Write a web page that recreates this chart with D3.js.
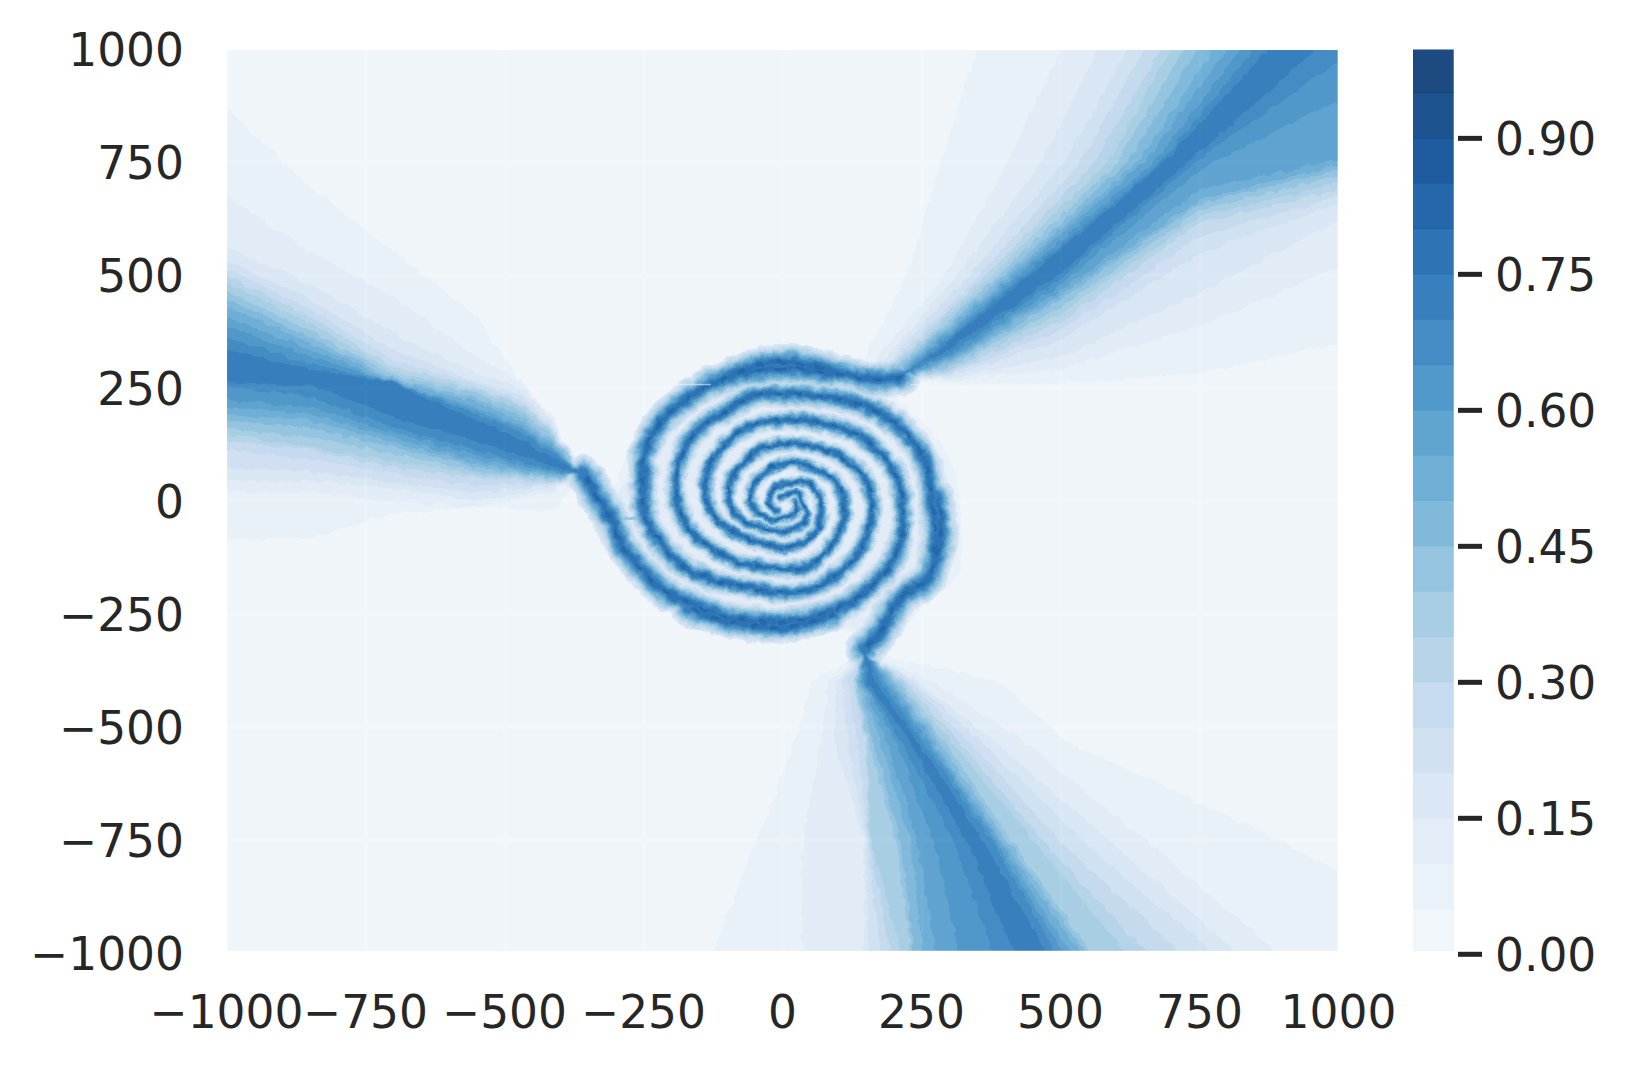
<!DOCTYPE html>
<html><head><meta charset="utf-8">
<script src="https://cdn.jsdelivr.net/npm/d3@7"></script>
<style>html,body{margin:0;background:#fff}svg{display:block}text{font-family:"DejaVu Sans",sans-serif;fill:#262626}</style>
</head><body><svg id="c" width="1627" height="1068"></svg>
<script>
const xTicks=[-1000,-750,-500,-250,0,250,500,750,1000];
const yTicks=[-1000,-750,-500,-250,0,250,500,750,1000];
const barTicks=[0,0.15,0.30,0.45,0.60,0.75,0.90];
const barExtent=[0.0037,0.9975];
const bluesStops=["#f1f7fb","#deebf7","#c6dbef","#9ecae1","#6baed6","#4292c6","#2171b5","#08519c","#073873"];
const bandLevels=d3.range(0,20);           // band i spans i*0.05 .. (i+1)*0.05

// upper-right wedge: level index, x on the left edge at y rows, y on the lower edge at x columns
const urRows=[1000,750,500,300], urCols=[300,500,750,1000], urApex=[200,271];
const urLeft=[[350,284,224,140],[500,404,290,158],[566,464,314,173],[620,506,335,182],[650,536,353,191],[680,560,365,197],[698,584,377,203],[722,602,389,209],[746,620,398,215],[776,638,407,221],[800,650,416,227],[824,668,425,233],[848,680,434,239],[872,686,443,245]];
const urRight=[[260,260,282,349],[266,293,386,519],[271,319,460,622],[276,356,548,659],[280,378,585,674],[286,397,615,689],[291,415,630,704],[297,430,645,719],[303,445,659,733],[308,456,667,745],[313,467,689,756],[319,478,734,889],[326,493,759,974],[337,504,773,1044]];

// left wedge
const lwColsTop=[-1000,-851,-701,-551,-473,-413], lwColsLow=[-1000,-851,-701,-551,-413], lwApex=[-359,60];
const lwTop=[[869,696,552,408,267,186],[674,552,452,319,263,178],[560,482,371,282,252,171],[534,445,334,263,238,163],[515,426,311,260,226,156],[497,408,297,252,219,149],[482,393,286,245,212,145],[463,378,278,238,200,138],[446,363,271,226,189,130],[430,349,267,219,178,123],[408,334,263,208,167,115],[387,319,263,200,160,112],[362,304,262,193,152,106],[334,293,260,178,138,97]];
const lwLow=[[-88,-81,-29,-14,-22],[19,19,-3,-14,19],[45,45,27,1,27],[71,67,41,19,34],[112,93,60,34,38],[134,112,75,52,41],[149,119,89,60,45],[160,141,104,67,49],[178,163,119,75,52],[193,178,130,82,56],[208,193,141,89,60],[223,208,152,101,63],[252,230,163,112,67],[263,256,186,132,75]];

// bottom wedge: x on the left and right edges at y rows
const bwRows=[-1000,-755,-532,-399], bwApex=[146,-333];
const bwLeft=[[-126,-49,23,50],[35,35,68,83],[146,146,92,95],[155,149,116,107],[176,152,134,116],[194,155,149,125],[212,158,152,128],[230,203,155,131],[236,212,161,134],[251,230,176,137],[275,242,188,140],[317,272,203,143],[377,308,212,146],[416,332,227,152]];
const bwRight=[[1270,902,512,386],[891,656,434,266],[819,590,380,242],[775,542,356,233],[716,500,335,224],[653,470,317,218],[617,452,302,212],[554,413,290,206],[545,404,281,200],[536,395,272,194],[518,389,266,188],[504,383,260,182],[491,377,251,176],[473,362,242,167]];

// pale disc round the spiral
const discOutline=[[8,337],[92,319],[152,289],[212,215],[272,149],[308,67],[320,-44],[314,-162],[250,-235],[185,-320],[92,-281],[8,-299],[-106,-292],[-196,-259],[-263,-192],[-323,-103],[-335,-44],[-287,82],[-269,149],[-203,234],[-106,297]];
const discLevels=[[1,1],[2,0.95]];
// horizontal seam where the field jumps
const seamY=258, seamSpans=[[-390,-130],[230,480]];

// the three spiral arms, read outside to centre
const armU=[[212,273],[164,269],[110,282],[56,298],[7,308],[-52,298],[-97,274],[-136,256],[-176,223],[-218,178],[-248,112],[-251,52],[-251,-3],[-245,-44],[-224,-88],[-185,-140],[-130,-173],[-58,-192],[7,-203],[56,-192],[119,-140],[152,-73],[161,-3],[146,52],[95,104],[56,120],[7,126],[-40,115],[-67,89],[-94,45],[-97,-3],[-76,-40],[-37,-59],[7,-66],[41,-44],[35,-3],[26,19],[8,15],[-4,8]];
const armB=[[146,-329],[176,-288],[212,-215],[262,-168],[275,-88],[268,-3],[255,89],[212,160],[170,197],[116,223],[56,234],[7,237],[-52,234],[-100,200],[-136,175],[-169,134],[-190,67],[-190,-3],[-166,-66],[-94,-129],[-46,-144],[8,-151],[44,-147],[86,-99],[107,-51],[110,-3],[98,38],[65,67],[8,86],[-40,56],[-58,23],[-58,-3],[-46,-25],[-22,-40],[8,-36],[26,-22],[20,-3]];
const armL=[[-359,60],[-345,35],[-334,8],[-317,-21],[-305,-51],[-290,-96],[-251,-155],[-215,-199],[-167,-225],[-106,-255],[8,-266],[104,-236],[158,-188],[197,-133],[212,-81],[215,-3],[200,67],[167,115],[131,149],[56,175],[7,180],[-64,163],[-100,130],[-133,75],[-136,-3],[-103,-59],[-58,-85],[8,-103],[59,-66],[68,-3],[44,41],[7,38],[-16,26],[-25,-3],[-10,-22]];
const armBridge=[[-299,-36],[-257,-36]];
// stretches where the outer ring is visibly fatter
const armFatTop=[[-90,280],[-30,290],[30,292],[85,280]];
const armFatBottom=[[-170,-238],[-100,-266],[8,-278],[90,-252]];
const armFatRight=[[268,-150],[284,-80],[278,10]];
// level index -> stroke width at unit weight
const armLevels=[3,4,5,6,7,8,9,10,11,12,13,14,15,16];
const armWidths=[24,22,20,18,16,14.5,13,11.5,10,8.5,7,5.5,3.5,2];
const armDotEvery={15:[4,3],16:[4,1]};   // level -> sampled pieces per cycle kept, gives the beaded look
const armRadius=[0,100,200,270,320], armWeight=[0.55,0.75,1,1.35,1.6];

const svg=d3.select("#c");
const x=d3.scaleLinear().domain([-1000,1000]).range([227,1339]);
const y=d3.scaleLinear().domain([-1000,1000]).range([953,49]);
const plot={l:227,t:50,r:1337.7,b:950.7};
const colorT=d3.scaleLinear().domain(d3.range(9).map(i=>i/8)).range(bluesStops).interpolate(d3.interpolateRgb);
const bandColor=i=>colorT(i/19);
const line=d3.line().x(d=>x(d[0])).y(d=>y(d[1]));

const defs=svg.append("defs");
defs.append("clipPath").attr("id","clip").append("rect").attr("x",plot.l).attr("y",plot.t).attr("width",plot.r-plot.l).attr("height",plot.b-plot.t);
const f=defs.append("filter").attr("id","rough").attr("filterUnits","userSpaceOnUse").attr("x",150).attr("y",0).attr("width",1300).attr("height",1030).attr("color-interpolation-filters","sRGB");
f.append("feTurbulence").attr("type","fractalNoise").attr("baseFrequency",0.09).attr("numOctaves",3).attr("seed",4).attr("result","n");
f.append("feDisplacementMap").attr("in","SourceGraphic").attr("in2","n").attr("scale",7).attr("xChannelSelector","R").attr("yChannelSelector","G");

// seaborn axes background and grid under the translucent field
svg.append("rect").attr("x",plot.l).attr("y",plot.t).attr("width",plot.r-plot.l).attr("height",plot.b-plot.t).attr("fill","#eaeaf2");
const grid=svg.append("g").attr("clip-path","url(#clip)").attr("stroke","#fff").attr("stroke-width",4);
grid.selectAll(".v").data(xTicks).join("line").attr("x1",d=>x(d)).attr("x2",d=>x(d)).attr("y1",plot.t).attr("y2",plot.b);
grid.selectAll(".h").data(yTicks).join("line").attr("y1",d=>y(d)).attr("y2",d=>y(d)).attr("x1",plot.l).attr("x2",plot.r);

const clipG=svg.append("g").attr("clip-path","url(#clip)").attr("opacity",0.9);
const field=clipG.append("g").attr("filter","url(#rough)");
field.append("rect").attr("x",170).attr("y",0).attr("width",1250).attr("height",1020).attr("fill",bandColor(0));

// sample arms, group short pieces per weight bucket
const tmp=svg.append("path").attr("fill","none");
const weightOf=d3.scaleLinear().domain(armRadius).range(armWeight).clamp(true);
const buckets=d3.range(0.5,1.7,0.1).map(w=>({w,d:[]}));
let pieceNo=0;
[armU,armB,armL,armFatTop,armFatBottom,armFatRight].forEach(arm=>{
  tmp.attr("d",line.curve(d3.curveCatmullRom)(arm));
  const n=tmp.node(),L=n.getTotalLength();
  let p=n.getPointAtLength(0);
  for(let s=5;s<=L+4.9;s+=5){
    const q=n.getPointAtLength(Math.min(s,L));
    const r=Math.hypot(x.invert(q.x),y.invert(q.y));
    const w=weightOf(r);
    const b=buckets[Math.max(0,Math.min(buckets.length-1,Math.round((w-0.5)/0.1)))];
    b.d.push({n:pieceNo++,s:`M${p.x.toFixed(1)},${p.y.toFixed(1)}L${q.x.toFixed(1)},${q.y.toFixed(1)}`});
    p=q;
  }
});
tmp.remove();
line.curve(d3.curveLinear);

const closed=pts=>line(pts)+"Z";
bandLevels.slice(1).forEach(i=>{
  const g=field.append("g").attr("fill",bandColor(i));
  const k=i-1;
  if(k<urLeft.length){
    const pts=[[1080,1080],[urLeft[k][0],1080]];
    urRows.forEach((r,j)=>pts.push([urLeft[k][j],r]));
    pts.push(urApex);
    urCols.forEach((c,j)=>pts.push([c,urRight[k][j]]));
    pts.push([1080,urRight[k][3]]);
    g.append("path").attr("d",closed(pts));
    const p2=[];
    lwColsTop.forEach((c,j)=>p2.push([c,lwTop[k][j]]));
    p2.push(lwApex);
    lwColsLow.slice().reverse().forEach((c,j)=>p2.push([c,lwLow[k][lwColsLow.length-1-j]]));
    p2.push([-1100,lwLow[k][0]],[-1100,lwTop[k][0]]);
    g.append("path").attr("d",closed(p2));
    const p3=[];
    bwRows.forEach((r,j)=>p3.push([bwLeft[k][j],r]));
    p3.push(bwApex);
    bwRows.slice().reverse().forEach((r,j)=>p3.push([bwRight[k][bwRows.length-1-j],r]));
    p3.push([bwRight[k][0],-1100],[bwLeft[k][0],-1100]);
    g.append("path").attr("d",closed(p3));
  }
  discLevels.filter(d=>d[0]===i).forEach(d=>{
    g.append("path").attr("d",d3.line().curve(d3.curveCatmullRomClosed).x(p=>x(p[0]*d[1])).y(p=>y(p[1]*d[1]))(discOutline));
  });
  const a=armLevels.indexOf(i);
  if(i===8) field.append("path").attr("d",line(armBridge)).attr("fill","none").attr("stroke",bandColor(i)).attr("stroke-width",3);
  if(a>=0){
    const dot=armDotEvery[i];
    buckets.filter(b=>b.d.length).forEach(b=>{
      const pieces=dot?b.d.filter(e=>e.n%dot[0]<dot[1]):b.d;
      field.append("path").attr("d",pieces.map(e=>e.s).join("")).attr("fill","none").attr("stroke",bandColor(i)).attr("stroke-linecap","round").attr("stroke-width",armWidths[a]*b.w);
    });
  }
});
clipG.append("g").selectAll("line").data(seamSpans).join("line").attr("x1",d=>x(d[0])).attr("x2",d=>x(d[1])).attr("y1",y(seamY)).attr("y2",y(seamY)).attr("stroke",bandColor(0)).attr("stroke-width",1.5).attr("opacity",0.6);

// axes
const fs="45.5px";
const ax=svg.append("g").attr("transform",`translate(-1,${plot.b})`).call(d3.axisBottom(x).tickValues(xTicks).tickSize(0).tickFormat(d3.format("d")));
ax.select(".domain").remove();
ax.selectAll("text").attr("y",77).attr("dy",0).style("font-size",fs).style("font-family",'"DejaVu Sans"').attr("fill","#262626");
const ay=svg.append("g").attr("transform",`translate(${plot.l},0)`).call(d3.axisLeft(y).tickValues(yTicks).tickSize(0).tickFormat(d3.format("d")));
ay.select(".domain").remove();
ay.selectAll("text").attr("x",-43).attr("dy",0).attr("y",16.5).style("font-size",fs).style("font-family",'"DejaVu Sans"').attr("fill","#262626");

// colour bar
const bar={l:1413,r:1453.7};
const by=d3.scaleLinear().domain([0,1]).range([954.3,47.7]);
svg.append("rect").attr("x",bar.l).attr("width",bar.r-bar.l).attr("y",by(barExtent[1])).attr("height",by(barExtent[0])-by(barExtent[1])).attr("fill","#eaeaf2");
svg.append("g").selectAll("rect").data(bandLevels).join("rect")
 .attr("x",bar.l).attr("width",bar.r-bar.l)
 .attr("y",i=>by(Math.min((i+1)*0.05,barExtent[1]))-0.5)
 .attr("height",i=>by(Math.max(i*0.05,barExtent[0]))-by(Math.min((i+1)*0.05,barExtent[1]))+0.5)
 .attr("fill",bandColor).attr("opacity",0.9);
const bt=svg.append("g").selectAll("g").data(barTicks).join("g").attr("transform",d=>`translate(0,${by(d)})`);
bt.append("line").attr("x1",1458).attr("x2",1482).attr("stroke","#262626").attr("stroke-width",5);
bt.append("text").attr("x",1495).attr("y",17).text(d=>d3.format(".2f")(d)).style("font-size",fs);
</script></body></html>
